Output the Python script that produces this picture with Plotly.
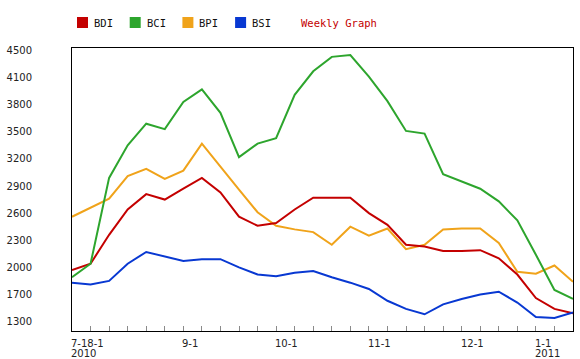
import plotly.graph_objects as go

# ---- data (weekly points) ----
WEEKS = list(range(28))
BDI = [1970, 2040, 2360, 2640, 2810, 2750, 2870, 2990, 2830, 2560, 2460, 2490, 2640, 2770,
       2770, 2770, 2600, 2470, 2250, 2230, 2180, 2180, 2190, 2100, 1920, 1660, 1540, 1490]
BCI = [1890, 2040, 2990, 3350, 3590, 3530, 3830, 3970, 3710, 3220, 3370, 3430, 3910, 4170,
       4330, 4350, 4110, 3840, 3510, 3480, 3030, 2950, 2870, 2730, 2520, 2140, 1750, 1650]
BPI = [2560, 2660, 2760, 3010, 3090, 2980, 3070, 3370, 3110, 2860, 2610, 2460, 2420, 2390,
       2250, 2450, 2350, 2430, 2200, 2250, 2420, 2430, 2430, 2270, 1950, 1930, 2020, 1840]
BSI = [1830, 1810, 1850, 2040, 2170, 2120, 2070, 2090, 2090, 2000, 1920, 1900, 1940, 1960,
       1890, 1830, 1760, 1630, 1540, 1480, 1590, 1650, 1700, 1730, 1610, 1450, 1440, 1500]

SERIES_NAMES = ["BDI", "BCI", "BPI", "BSI"]
SERIES_VALUES = [BDI, BCI, BPI, BSI]
SERIES_COLORS = ["#C40000", "#2DA52D", "#F0A31A", "#0838D2"]
DRAW_ORDER = [2, 0, 1, 3]

Y_TICK_VALUES = [1400, 1700, 2000, 2300, 2600, 2900, 3200, 3500, 3800, 4100, 4400]
Y_TICK_LABELS = ["1300", "1700", "2000", "2300", "2600", "2900", "3200", "3500", "3800", "4100", "4500"]

X_LABEL_WEEKS = [0, 6, 11, 16, 21, 25]
X_LABELS = ["7-18-1", "9-1", "10-1", "11-1", "12-1", "1-1"]
X_YEARS = ["2010", "", "", "", "", "2011"]

TITLE_TEXT = "Weekly Graph"

# ---- layout geometry ----
W, H = 580, 359
ML, MR, MT, MB = 72, 7, 48, 28
PW, PH = W - ML - MR, H - MT - MB


def px_x(px):
    return (px - ML) / PW


def px_y(py):
    return (H - MB - py) / PH


fig = go.Figure()
for i in DRAW_ORDER:
    fig.add_trace(go.Scatter(
        x=WEEKS, y=SERIES_VALUES[i], mode="lines", name=SERIES_NAMES[i],
        line=dict(color=SERIES_COLORS[i], width=2), showlegend=False,
        hoverinfo="x+y+name",
    ))

shapes = []
annotations = []
mono = dict(family="DejaVu Sans Mono", size=10.5, color="#111111")
item_x0 = 77
item_step = 52.7
for i, name in enumerate(SERIES_NAMES):
    x0 = item_x0 + i * item_step
    shapes.append(dict(type="rect", xref="paper", yref="paper",
                       x0=px_x(x0), x1=px_x(x0 + 11), y0=px_y(28), y1=px_y(17),
                       fillcolor=SERIES_COLORS[i], line=dict(width=0)))
    annotations.append(dict(text=name, xref="paper", yref="paper", x=px_x(x0 + 15), y=px_y(22.5),
                            xanchor="left", yanchor="middle", showarrow=False, font=mono))
annotations.append(dict(text=TITLE_TEXT, xref="paper", yref="paper", x=px_x(299), y=px_y(22.5),
                        xanchor="left", yanchor="middle", showarrow=False,
                        font=dict(family="DejaVu Sans Mono", size=10.5, color="#C40000")))

lab_font = dict(family="DejaVu Sans", size=10, color="#222222")
for wk, lab, yr in zip(X_LABEL_WEEKS, X_LABELS, X_YEARS):
    annotations.append(dict(text=lab, x=wk, xref="x", y=0, yref="paper", xanchor="left",
                            yanchor="middle", yshift=-12.5, xshift=-3, showarrow=False, font=lab_font))
    if yr:
        annotations.append(dict(text=yr, x=wk, xref="x", y=0, yref="paper", xanchor="left",
                                yanchor="middle", yshift=-22.5, xshift=-3, showarrow=False, font=lab_font))

fig.update_layout(
    width=W, height=H, autosize=False,
    margin=dict(l=ML, r=MR, t=MT, b=MB, pad=0),
    paper_bgcolor="white", plot_bgcolor="white",
    showlegend=False,
    shapes=shapes, annotations=annotations,
    xaxis=dict(range=[0, 27], showgrid=False, zeroline=False, showline=True, mirror=True,
               linecolor="black", linewidth=1, ticks="inside", ticklen=5, tickcolor="#8a8a8a",
               tickwidth=1, tickvals=WEEKS, showticklabels=False, automargin=False),
    yaxis=dict(range=[1295, 4428], showgrid=False, zeroline=False, showline=True, mirror=True,
               linecolor="black", linewidth=1, ticks="", tickvals=Y_TICK_VALUES,
               ticktext=Y_TICK_LABELS, ticklabelstandoff=37, tickfont=lab_font, automargin=False),
)

fig.write_html("out.html", config={"displayModeBar": False},
               post_script="document.body.style.margin='0px';")
